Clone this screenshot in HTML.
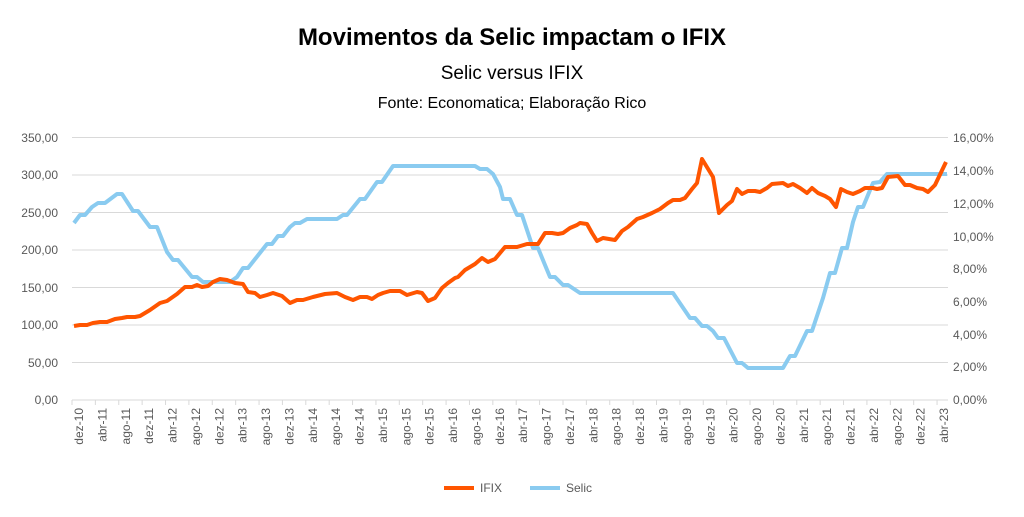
<!DOCTYPE html>
<html><head><meta charset="utf-8"><style>
body{margin:0;background:#fff;width:1024px;height:512px;overflow:hidden;font-family:"Liberation Sans",sans-serif}
</style></head><body>
<svg width="1024" height="512" xmlns="http://www.w3.org/2000/svg" font-family="Liberation Sans, sans-serif">
<text x="512" y="45" text-anchor="middle" font-size="24" font-weight="bold" fill="#000">Movimentos da Selic impactam o IFIX</text>
<text x="512" y="79" text-anchor="middle" font-size="19" fill="#000">Selic versus IFIX</text>
<text x="512" y="108" text-anchor="middle" font-size="16" fill="#000">Fonte: Economatica; Elaboração Rico</text>
<g stroke="#d9d9d9" stroke-width="1">
<line x1="72" x2="948" y1="137.5" y2="137.5"/><line x1="72" x2="948" y1="175" y2="175"/><line x1="72" x2="948" y1="212.5" y2="212.5"/><line x1="72" x2="948" y1="250" y2="250"/><line x1="72" x2="948" y1="287.5" y2="287.5"/><line x1="72" x2="948" y1="325" y2="325"/><line x1="72" x2="948" y1="362.5" y2="362.5"/><line x1="72" x2="948" y1="400" y2="400"/>
</g>
<g font-size="12" fill="#595959" text-anchor="end">
<text x="58" y="142">350,00</text><text x="58" y="179">300,00</text><text x="58" y="217">250,00</text><text x="58" y="254">200,00</text><text x="58" y="292">150,00</text><text x="58" y="329">100,00</text><text x="58" y="367">50,00</text><text x="58" y="404">0,00</text>
</g>
<g font-size="12" fill="#595959">
<text x="953" y="142">16,00%</text><text x="953" y="175">14,00%</text><text x="953" y="208">12,00%</text><text x="953" y="241">10,00%</text><text x="953" y="273">8,00%</text><text x="953" y="306">6,00%</text><text x="953" y="339">4,00%</text><text x="953" y="371">2,00%</text><text x="953" y="404">0,00%</text>
</g>
<g id="ticks" stroke="#d9d9d9"></g>
<g id="labels" font-size="12" fill="#595959"></g>
<polyline fill="none" stroke="#8acbf0" stroke-width="4" stroke-linejoin="round" points="74,223 80,215 85,215 92,207 98,203 105,203 117,194 122,194 133,211 138,211 150,227 157,227 167,252 173,260 178,260 192,277 197,277 203,282 230,282 237,277 243,268 248,268 267,244 272,244 278,236 283,236 290,227 295,223 300,223 307,219 337,219 343,215 347,215 360,199 365,199 377,182 382,182 393,166 475,166 480,169 487,169 493,174 500,187 503,199 510,199 517,215 522,215 533,248 538,248 545,265 550,277 555,277 563,285 568,285 580,293 673,293 690,318 695,318 702,326 707,326 713,331 718,338 724,338 737,363 742,363 748,368 783,368 790,356 795,356 807,331 812,331 823,298 830,273 835,273 842,248 847,248 853,222 858,207 863,207 873,183 880,182 887,174 947,174"/>
<polyline fill="none" stroke="#ff5500" stroke-width="4" stroke-linejoin="round" points="74,326 80,325 87,325 93,323 100,322 107,322 115,319 122,318 127,317 135,317 140,316 150,310 160,303 167,301 177,294 185,287 192,287 197,285 202,287 208,286 213,282 220,279 227,280 235,283 243,284 248,292 255,293 260,297 267,295 273,293 282,296 290,303 297,300 303,300 313,297 325,294 337,293 345,297 353,300 360,297 367,297 372,299 378,295 383,293 390,291 400,291 407,295 417,292 422,293 428,301 435,298 442,288 448,283 455,278 458,277 465,270 475,264 482,258 488,262 495,259 505,247 517,247 527,244 538,244 545,233 552,233 558,234 563,233 570,228 577,225 580,223 587,224 592,233 597,241 603,238 615,240 622,231 628,227 637,219 643,217 652,213 660,209 668,203 673,200 680,200 685,198 692,189 697,183 702,159 713,177 719,213 727,205 732,201 737,189 742,194 748,191 755,191 760,192 767,188 772,184 783,183 788,186 793,184 800,188 807,193 812,188 818,193 825,196 830,199 836,207 841,189 847,192 853,194 860,191 865,188 873,188 877,189 882,188 888,177 898,176 905,185 910,185 917,188 923,189 928,192 935,185 946,162"/>
<line x1="444" x2="474" y1="488" y2="488" stroke="#ff5500" stroke-width="4"/>
<text x="480" y="492" font-size="12" fill="#595959">IFIX</text>
<line x1="530" x2="560" y1="488" y2="488" stroke="#8acbf0" stroke-width="4"/>
<text x="566" y="492" font-size="12" fill="#595959">Selic</text>
</svg>
<script>
var m=["dez","abr","ago"],t=document.getElementById("ticks"),l=document.getElementById("labels"),ns="http://www.w3.org/2000/svg";
var yr=10;
for(var i=0;i<38;i++){
 var x=72+23.38*i;
 var ln=document.createElementNS(ns,"line");ln.setAttribute("x1",x);ln.setAttribute("x2",x);ln.setAttribute("y1",400);ln.setAttribute("y2",405);t.appendChild(ln);
 var mo=m[i%3]; if(i>0&&i%3==1)yr++;
 var tx=document.createElementNS(ns,"text");
 tx.setAttribute("transform","translate("+(x+11)+",408) rotate(-90)");tx.setAttribute("text-anchor","end");
 tx.textContent=mo+"-"+yr;l.appendChild(tx);
}
var bl=document.createElementNS(ns,"line");bl.setAttribute("x1",72);bl.setAttribute("x2",948);bl.setAttribute("y1",400);bl.setAttribute("y2",400);t.appendChild(bl);
</script>
</body></html>
